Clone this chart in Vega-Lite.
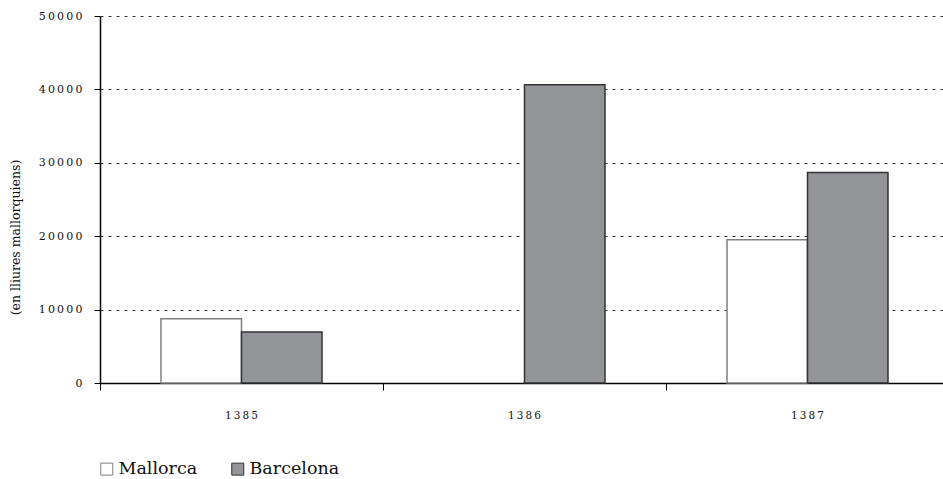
{
  "$schema": "https://vega.github.io/schema/vega-lite/v6.json",
  "width": 843,
  "height": 367,
  "autosize": {"type": "none"},
  "padding": {"left": 100, "top": 16, "right": 0, "bottom": 96},
  "background": "white",
  "config": {"view": {"stroke": null}},
  "data": {
    "values": [
      {"year": "1385", "series": "Mallorca", "value": 8760},
      {"year": "1385", "series": "Barcelona", "value": 6950},
      {"year": "1386", "series": "Barcelona", "value": 40640},
      {"year": "1387", "series": "Mallorca", "value": 19520},
      {"year": "1387", "series": "Barcelona", "value": 28690}
    ]
  },
  "mark": {"type": "bar", "strokeWidth": 1.5},
  "encoding": {
    "x": {
      "field": "year",
      "type": "nominal",
      "scale": {"domain": ["1385", "1386", "1387"], "range": [0, 849], "paddingInner": 0, "paddingOuter": 0},
      "axis": {
        "title": null,
        "bandPosition": 0,
        "labelOffset": 0,
        "labelAngle": 0,
        "labelExpr": "join(split(datum.label, ''), '\u2009')",
        "labelFont": "DejaVu Serif",
        "labelFontSize": 10.5,
        "labelColor": "#111",
        "labelPadding": 20,
        "tickSize": 7,
        "tickColor": "#000",
        "domainColor": "#000",
        "domainWidth": 1.5,
        "grid": false
      }
    },
    "xOffset": {
      "field": "series",
      "type": "nominal",
      "scale": {"domain": ["Mallorca", "Barcelona"], "paddingInner": 0, "paddingOuter": 0.758}
    },
    "y": {
      "field": "value",
      "type": "quantitative",
      "scale": {"domain": [0, 50000], "nice": false},
      "axis": {
        "title": "(en lliures mallorquiens)",
        "titleFont": "DejaVu Serif",
        "titleFontSize": 12.5,
        "titleFontWeight": "normal",
        "titleColor": "#111",
        "titleAngle": 270,
        "titleX": -85,
        "titleY": 221,
        "titleAlign": "center",
        "titleBaseline": "middle",
        "values": [0, 10000, 20000, 30000, 40000, 50000],
        "format": "d",
        "labelExpr": "join(split(datum.label, ''), '\u2009')",
        "labelFont": "DejaVu Serif",
        "labelFontSize": 11,
        "labelColor": "#111",
        "labelPadding": 12,
        "tickSize": 6,
        "tickColor": "#000",
        "domainColor": "#000",
        "domainWidth": 1.5,
        "grid": true,
        "gridColor": "#333",
        "gridDash": [3, 5],
        "gridWidth": 1
      }
    },
    "fill": {
      "field": "series",
      "type": "nominal",
      "scale": {"domain": ["Mallorca", "Barcelona"], "range": ["#ffffff", "#939598"]},
      "legend": {
        "title": null,
        "orient": "none",
        "direction": "horizontal",
        "legendX": -2,
        "legendY": 444,
        "padding": 0,
        "symbolType": "square",
        "symbolSize": 144,
        "symbolStrokeWidth": 1,
        "labelFont": "DejaVu Serif",
        "labelFontSize": 17.5,
        "labelColor": "#111",
        "labelOffset": 3,
        "columnPadding": 31,
        "encode": {"symbols": {"update": {"stroke": {"value": "#222"}, "strokeWidth": {"value": 1}}}}
      }
    },
    "stroke": {
      "field": "series",
      "type": "nominal",
      "scale": {"domain": ["Mallorca", "Barcelona"], "range": ["#7f7f7f", "#333333"]},
      "legend": null
    }
  }
}
